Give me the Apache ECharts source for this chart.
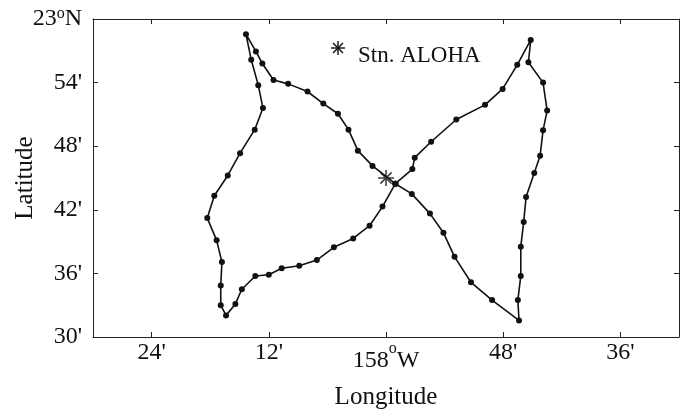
<!DOCTYPE html>
<html>
<head>
<meta charset="utf-8">
<title>Cruise track around Station ALOHA</title>
<script src="https://cdn.jsdelivr.net/npm/echarts@6/dist/echarts.min.js"></script>
<style>
  html, body { margin: 0; padding: 0; background: #fff; }
  #chart { width: 686px; height: 414px; }
</style>
</head>
<body>
<div id="chart"></div>
<script>
// Ship track stations (decimal degrees, west longitude negative), in sailing order
const trackLon = [
  -157.984, -157.955, -157.951, -157.923, -157.880, -157.831, -157.801, -157.776,
  -157.753, -157.757, -157.732, -157.725, -157.732, -157.737, -157.747, -157.761,
  -157.765, -157.770, -157.770, -157.775, -157.773, -157.819, -157.855, -157.883,
  -157.902, -157.925, -157.956, -157.984, -158.023, -158.048, -158.064, -158.082,
  -158.107, -158.134, -158.167, -158.192, -158.211, -158.222, -158.239, -158.230,
  -158.218, -158.210, -158.224, -158.249, -158.270, -158.293, -158.305, -158.289,
  -158.280, -158.282, -158.282, -158.273, -158.257, -158.246, -158.223, -158.200,
  -158.178, -158.148, -158.118, -158.089, -158.056, -158.028, -158.006, -157.984
];
const trackLat = [
  22.741, 22.764, 22.782, 22.807, 22.842, 22.865, 22.890, 22.928,
  22.967, 22.932, 22.900, 22.856, 22.825, 22.785, 22.758, 22.720,
  22.681, 22.642, 22.596, 22.558, 22.526, 22.558, 22.586, 22.626,
  22.664, 22.694, 22.725, 22.741, 22.769, 22.793, 22.826, 22.851,
  22.867, 22.886, 22.898, 22.904, 22.930, 22.949, 22.976, 22.936,
  22.896, 22.860, 22.826, 22.789, 22.754, 22.722, 22.687, 22.652,
  22.618, 22.581, 22.550, 22.534, 22.552, 22.575, 22.596, 22.598,
  22.608, 22.612, 22.621, 22.641, 22.655, 22.675, 22.705, 22.741
];

// Station ALOHA position
const stationName = 'Stn. ALOHA';
const stationLon = [-158.0];
const stationLat = [22.75];

// Axis ticks and their labels ('^o' marks a superscript degree sign)
const xTickValues = [-158.4, -158.2, -158.0, -157.8, -157.6];
const xTickLabels = ["24'", "12'", "158^oW", "48'", "36'"];
const yTickValues = [22.5, 22.6, 22.7, 22.8, 22.9, 23.0];
const yTickLabels = ["30'", "36'", "42'", "48'", "54'", "23^oN"];

const FONT = "'Liberation Serif', 'Times New Roman', serif";
const INK = '#111';

function labelFor(values, labels, v) {
  for (let i = 0; i < values.length; i++) {
    if (Math.abs(values[i] - v) < 1e-6) return labels[i];
  }
  return '';
}
function toRich(text, base) {
  if (text.indexOf('^o') < 0) return text;
  const p = text.split('^o');
  return '{' + base + '|' + p[0] + '}{s|o}{' + base + '|' + p[1] + '}';
}

// Eight-armed asterisk marker
const starPath = 'path://' +
  'M0 9H20V11H0Z' +
  'M9 0H11V20H9Z' +
  'M2.3 3.7L3.7 2.3L17.7 16.3L16.3 17.7Z' +
  'M16.3 2.3L17.7 3.7L3.7 17.7L2.3 16.3Z';

const axisLineStyle = { color: '#222', width: 1 };

const chart = echarts.init(document.getElementById('chart'), null, { renderer: 'canvas' });

chart.setOption({
  animation: false,
  backgroundColor: '#fff',
  grid: { left: 93, right: 7, top: 19, bottom: 77, containLabel: false, outerBoundsMode: 'none' },
  xAxis: [
    {
      type: 'value', position: 'bottom', min: -158.5, max: -157.5,
      name: 'Longitude', nameLocation: 'middle', nameGap: 48, nameMoveOverlap: false,
      nameTextStyle: { fontFamily: FONT, fontSize: 25, color: INK },
      axisLine: { show: true, onZero: false, lineStyle: axisLineStyle },
      axisTick: { show: true, inside: true, length: 5, lineStyle: axisLineStyle, customValues: xTickValues },
      axisLabel: {
        show: true, margin: 4, fontFamily: FONT, fontSize: 24, color: INK,
        customValues: xTickValues,
        formatter: v => toRich(labelFor(xTickValues, xTickLabels, v), 'b'),
        rich: {
          b: { fontFamily: FONT, fontSize: 24, color: INK, lineHeight: 40 },
          s: { fontFamily: FONT, fontSize: 16, color: INK, lineHeight: 26, verticalAlign: 'top' }
        }
      },
      splitLine: { show: false }
    },
    {
      type: 'value', position: 'top', min: -158.5, max: -157.5,
      axisLine: { show: true, onZero: false, lineStyle: axisLineStyle },
      axisTick: { show: true, inside: true, length: 5, lineStyle: axisLineStyle, customValues: xTickValues },
      axisLabel: { show: false },
      splitLine: { show: false }
    }
  ],
  yAxis: [
    {
      type: 'value', position: 'left', min: 22.5, max: 23.0,
      name: 'Latitude', nameLocation: 'middle', nameGap: 55, nameMoveOverlap: false,
      nameTextStyle: { fontFamily: FONT, fontSize: 25, color: INK },
      axisLine: { show: true, onZero: false, lineStyle: axisLineStyle },
      axisTick: { show: true, inside: true, length: 5, lineStyle: axisLineStyle, customValues: yTickValues },
      axisLabel: {
        show: true, margin: 11, fontFamily: FONT, fontSize: 24, color: INK,
        customValues: yTickValues,
        formatter: v => toRich(labelFor(yTickValues, yTickLabels, v), 'b'),
        rich: {
          b: { fontFamily: FONT, fontSize: 24, color: INK, lineHeight: 26 },
          s: { fontFamily: FONT, fontSize: 16, color: INK, lineHeight: 12, verticalAlign: 'top' }
        }
      },
      splitLine: { show: false }
    },
    {
      type: 'value', position: 'right', min: 22.5, max: 23.0,
      axisLine: { show: true, onZero: false, lineStyle: axisLineStyle },
      axisTick: { show: true, inside: true, length: 5, lineStyle: axisLineStyle, customValues: yTickValues },
      axisLabel: { show: false },
      splitLine: { show: false }
    }
  ],
  graphic: [
    {
      type: 'group', x: 338, y: 48, silent: true,
      children: [
        { type: 'line', shape: { x1: -7, y1: 0, x2: 7, y2: 0 }, style: { stroke: INK, lineWidth: 1.4 } },
        { type: 'line', shape: { x1: 0, y1: -7, x2: 0, y2: 7 }, style: { stroke: INK, lineWidth: 1.4 } },
        { type: 'line', shape: { x1: -5, y1: -5, x2: 5, y2: 5 }, style: { stroke: INK, lineWidth: 1.4 } },
        { type: 'line', shape: { x1: 5, y1: -5, x2: -5, y2: 5 }, style: { stroke: INK, lineWidth: 1.4 } }
      ]
    },
    {
      type: 'text', x: 358, y: 56, silent: true,
      style: {
        text: stationName, fontFamily: FONT, fontSize: 23, fill: INK,
        textAlign: 'left', textVerticalAlign: 'middle', verticalAlign: 'middle'
      }
    }
  ],
  series: [
    {
      name: 'Track',
      type: 'line',
      xAxisIndex: 0, yAxisIndex: 0,
      data: trackLon.map((lon, i) => [lon, trackLat[i]]),
      symbol: 'circle',
      symbolSize: 6,
      showSymbol: true,
      lineStyle: { color: INK, width: 1.6 },
      itemStyle: { color: INK },
      z: 2
    },
    {
      name: stationName,
      type: 'scatter',
      xAxisIndex: 0, yAxisIndex: 0,
      data: stationLon.map((lon, i) => [lon, stationLat[i]]),
      symbol: starPath,
      symbolSize: 16,
      itemStyle: { color: INK },
      z: 3
    }
  ]
});
</script>
</body>
</html>
